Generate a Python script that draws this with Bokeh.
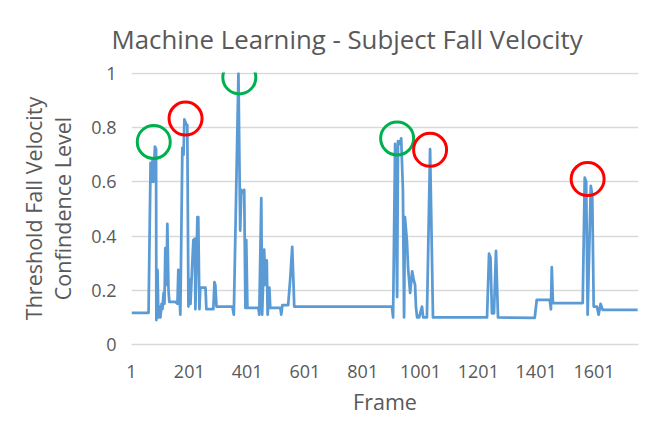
from bokeh.plotting import figure
from bokeh.models import FixedTicker, CustomJSTickFormatter, Range1d
from bokeh.embed import file_html
from bokeh.resources import INLINE

# Frame index of each vertex of the series and its confidence value
frames = [1, 60, 67, 70, 74, 77, 82, 86, 87, 91, 94, 98, 101, 105, 108, 112, 115, 118, 122, 125,
          129, 132, 153, 160, 163, 170, 177, 181, 184, 191, 194, 198, 201, 205, 215, 220, 222, 229,
          232, 236, 239, 257, 260, 284, 288, 291, 295, 350, 355, 371, 377, 381, 388, 391, 395, 398,
          402, 440, 443, 450, 453, 460, 464, 469, 472, 478, 481, 516, 519, 523, 543, 550, 557, 561,
          564, 902, 906, 913, 920, 923, 930, 934, 940, 944, 947, 954, 958, 965, 972, 977, 982, 985,
          989, 996, 1006, 1010, 1023, 1034, 1044, 1231, 1238, 1243, 1248, 1255, 1262, 1269, 1396,
          1403, 1448, 1452, 1455, 1459, 1562, 1569, 1574, 1579, 1590, 1595, 1600, 1611, 1617, 1624,
          1631, 1752]
confidence = [0.117, 0.117, 0.67, 0.60, 0.68, 0.60, 0.73, 0.72, 0.09, 0.275, 0.10, 0.14, 0.10, 0.15,
              0.13, 0.19, 0.15, 0.355, 0.22, 0.445, 0.20, 0.157, 0.157, 0.15, 0.275, 0.11, 0.725, 0.70,
              0.83, 0.81, 0.81, 0.14, 0.24, 0.15, 0.385, 0.39, 0.13, 0.47, 0.47, 0.13, 0.21, 0.21,
              0.13, 0.13, 0.23, 0.22, 0.14, 0.14, 0.11, 1.0, 0.42, 0.57, 0.56, 0.57, 0.135, 0.385,
              0.135, 0.135, 0.11, 0.54, 0.11, 0.35, 0.22, 0.31, 0.11, 0.21, 0.135, 0.135, 0.11, 0.145,
              0.145, 0.24, 0.36, 0.24, 0.14, 0.14, 0.10, 0.74, 0.175, 0.75, 0.74, 0.76, 0.57, 0.10,
              0.47, 0.38, 0.28, 0.19, 0.27, 0.24, 0.22, 0.14, 0.10, 0.10, 0.14, 0.10, 0.10, 0.72, 0.10,
              0.10, 0.335, 0.32, 0.115, 0.115, 0.345, 0.10, 0.098, 0.165, 0.165, 0.13, 0.285, 0.153,
              0.153, 0.615, 0.60, 0.11, 0.585, 0.55, 0.14, 0.14, 0.11, 0.15, 0.128, 0.128]

# Highlighted peaks (circled in the chart)
highlight_frames = [78, 188, 374, 920, 1034, 1579]
highlight_values = [0.747, 0.833, 0.985, 0.76, 0.718, 0.61]
highlight_colors = ["#00B050", "#FF0000", "#00B050", "#00B050", "#FF0000", "#FF0000"]

x_ticks = [1, 201, 401, 601, 801, 1001, 1201, 1401, 1601]
y_ticks = [0, 0.2, 0.4, 0.6, 0.8, 1]

FONT = "Open Sans"
GREY = "#595959"

p = figure(width=664, height=418, output_backend="svg", toolbar_location=None,
           x_range=Range1d(1, 1755), y_range=Range1d(0, 1.003),
           min_border_left=131, min_border_right=26, min_border_top=72, min_border_bottom=68)

p.title.text = "Machine Learning - Subject Fall Velocity"
p.title.text_font = FONT
p.title.text_font_size = "25.8px"
p.title.text_font_style = "normal"
p.title.text_color = GREY
p.title.align = "left"
p.title.offset = -20
p.title.standoff = 32

p.line(frames, confidence, line_color="#5B9BD5", line_width=2.75, line_join="round")
p.scatter(highlight_frames, highlight_values, marker="circle", size=33, fill_alpha=0,
          line_color=highlight_colors, line_width=3)

p.outline_line_color = None
p.background_fill_color = "white"
p.border_fill_color = "white"

p.xgrid.grid_line_color = None
p.ygrid.grid_line_color = "#d9d9d9"
p.ygrid.grid_line_width = 1.5
p.ygrid.ticker = FixedTicker(ticks=y_ticks)

p.xaxis.ticker = FixedTicker(ticks=x_ticks)
p.yaxis.ticker = FixedTicker(ticks=y_ticks)
p.yaxis.formatter = CustomJSTickFormatter(code="return String(Math.round(tick*10)/10);")

for ax in (p.xaxis[0], p.yaxis[0]):
    ax.major_tick_line_color = None
    ax.minor_tick_line_color = None
    ax.major_label_text_font = FONT
    ax.major_label_text_font_size = "18px"
    ax.major_label_text_color = GREY
    ax.axis_label_text_font = FONT
    ax.axis_label_text_font_size = "21.5px"
    ax.axis_label_text_font_style = "normal"
    ax.axis_label_text_color = GREY

p.xaxis.axis_line_color = "#d9d9d9"
p.xaxis.axis_line_width = 1.5
p.yaxis.axis_line_color = None
p.xaxis.major_label_standoff = 14
p.yaxis.major_label_standoff = 9
p.xaxis.axis_label = "Frame"
p.xaxis.axis_label_standoff = 6
p.yaxis.axis_label = "Threshold Fall Velocity\nConfindence Level"
p.yaxis.axis_label_text_line_height = 1.0
p.yaxis.axis_label_standoff = 11

open("out.html", "w").write(file_html(p, INLINE))
